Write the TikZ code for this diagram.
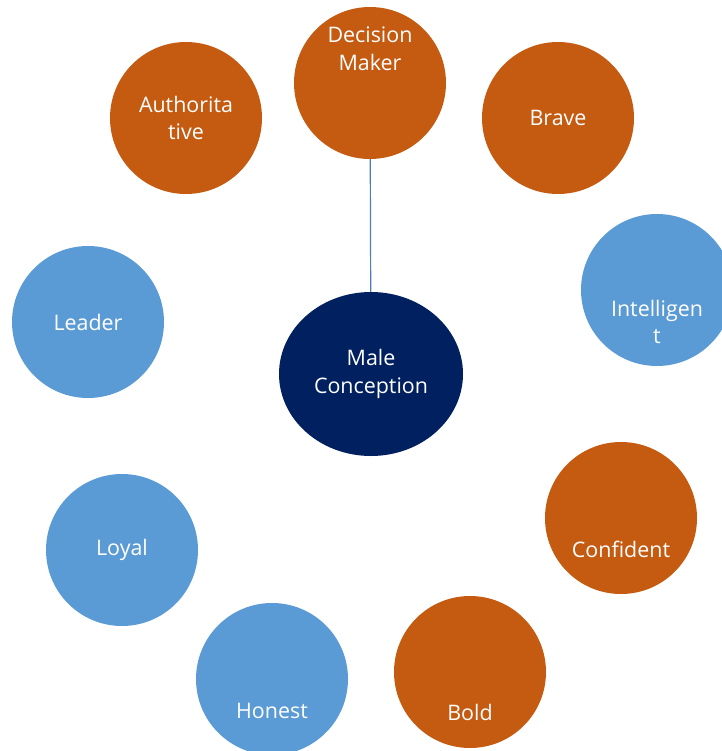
\documentclass[tikz,border=0pt]{standalone}
\usepackage{fontspec}
\setmainfont{Open Sans}
\usepackage{xcolor}
\usepackage{tikz}
\usetikzlibrary{shapes.geometric}

\definecolor{rust}{HTML}{C55A11}
\definecolor{sky}{HTML}{5B9BD5}
\definecolor{navy}{HTML}{002060}
\definecolor{linkblue}{HTML}{4A7EBB}

\begin{document}
\begin{tikzpicture}[x=1bp,y=-1bp,
  ball/.style={circle,inner sep=0pt,minimum size=152bp},
  rustball/.style={ball,fill=rust},
  skyball/.style={ball,fill=sky},
  txt/.style={text=white,align=center,font=\fontsize{21.5}{28}\selectfont},
  link/.style={linkblue,line width=1.2bp}]
\useasboundingbox (0,0) rectangle (722,751);

% Centre
\node[ellipse,fill=navy,inner sep=0pt,minimum width=184bp,minimum height=164bp] (male) at (371,374) {};
\node[txt] (male-t) at (male) {Male\\Conception};

% Orange circles
\node[rustball] (decision) at (370,83) {};
\node[txt,yshift=34bp] (decision-t) at (decision) {Decision\\Maker};
\node[rustball] (author) at (186,118) {};
\node[txt] (author-t) at (author) {Authorita\\tive};
\node[rustball] (brave) at (558,118) {};
\node[txt] (brave-t) at (brave) {Brave};
\node[rustball] (confident) at (621,518) {};
\node[txt,yshift=-31bp] (confident-t) at (confident) {Confident};
\node[rustball] (bold) at (470,672) {};
\node[txt,yshift=-40bp] (bold-t) at (bold) {Bold};

% Blue circles
\node[skyball] (intel) at (657,290) {};
\node[txt,yshift=-32bp] (intel-t) at (intel) {Intelligen\\t};
\node[skyball] (leader) at (88,322) {};
\node[txt] (leader-t) at (leader) {Leader};
\node[skyball] (loyal) at (122,550) {};
\node[txt] (loyal-t) at (loyal) {Loyal};
\node[skyball] (honest) at (272,679) {};
\node[txt,yshift=-32bp] (honest-t) at (honest) {Honest};

% Connector
\draw[link] (decision) -- (male);
\end{tikzpicture}
\end{document}
